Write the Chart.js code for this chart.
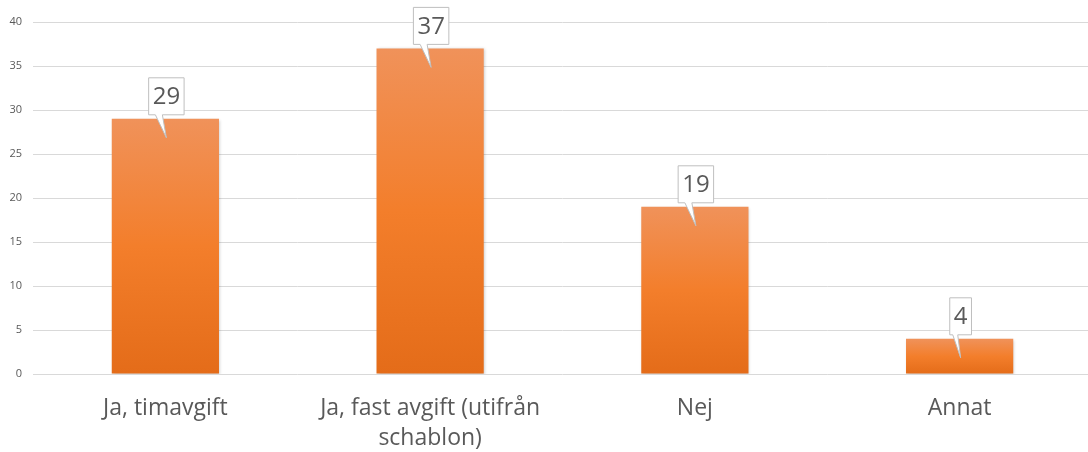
<!DOCTYPE html>
<html>
<head>
<meta charset="utf-8">
<script src="https://cdn.jsdelivr.net/npm/chart.js@4/dist/chart.umd.min.js"></script>
<style>
html,body{margin:0;padding:0;background:#fff;overflow:hidden;}
#wrap{width:1088px;height:452px;overflow:hidden;}
</style>
</head>
<body>
<div id="wrap"><canvas id="c" width="1092" height="452"></canvas></div>
<script>
const categories = [["Ja, timavgift"], ["Ja, fast avgift (utifrån", "schablon)"], ["Nej"], ["Annat"]];
const values = [29, 37, 19, 4];
const yTicks = [0, 5, 10, 15, 20, 25, 30, 35, 40];

const FONT = "'Open Sans', 'Liberation Sans', sans-serif";

const shadowPlugin = {
  id: 'barShadow',
  beforeDatasetDraw(chart) {
    const ctx = chart.ctx;
    ctx.save();
    ctx.shadowColor = 'rgba(0,0,0,0.22)';
    ctx.shadowBlur = 3;
    ctx.shadowOffsetX = 1;
    ctx.shadowOffsetY = 1;
  },
  afterDatasetDraw(chart) {
    chart.ctx.restore();
  }
};

const calloutPlugin = {
  id: 'callouts',
  afterDatasetsDraw(chart) {
    const ctx = chart.ctx;
    const meta = chart.getDatasetMeta(0);
    ctx.save();
    ctx.font = "24px " + FONT;
    meta.data.forEach((bar, i) => {
      const txt = String(values[i]);
      const tw = ctx.measureText(txt).width;
      const w = tw + 8;
      const h = 37;
      const cx = bar.x + 1;
      const bottom = bar.y - 4;
      const left = cx - w / 2, right = cx + w / 2, top = bottom - h;
      const tipX = bar.x + 1, tipY = bar.y + 19;
      const pb1 = cx - 11, pb2 = cx - 4;
      ctx.beginPath();
      ctx.moveTo(left, top);
      ctx.lineTo(right, top);
      ctx.lineTo(right, bottom);
      ctx.lineTo(Math.max(pb2, left + 8), bottom);
      ctx.lineTo(tipX, tipY);
      ctx.lineTo(Math.max(pb1, left + 3), bottom);
      ctx.lineTo(left, bottom);
      ctx.closePath();
      ctx.fillStyle = '#ffffff';
      ctx.fill();
      ctx.strokeStyle = '#bfbfbf';
      ctx.lineWidth = 1;
      ctx.stroke();
      ctx.fillStyle = '#595959';
      ctx.textAlign = 'center';
      ctx.textBaseline = 'middle';
      ctx.fillText(txt, cx, top + h / 2 + 1);
    });
    ctx.restore();
  }
};

function barGradient(context) {
  const chart = context.chart;
  const { chartArea } = chart;
  if (!chartArea) return '#F07F2C';
  const yScale = chart.scales.y;
  const v = values[context.dataIndex];
  const top = yScale.getPixelForValue(v);
  const bottom = yScale.getPixelForValue(0);
  const g = chart.ctx.createLinearGradient(0, top, 0, bottom);
  g.addColorStop(0, '#F0925A');
  g.addColorStop(0.5, '#F37E2B');
  g.addColorStop(1, '#E46C19');
  return g;
}

new Chart(document.getElementById('c'), {
  type: 'bar',
  data: {
    labels: categories,
    datasets: [{
      data: values,
      backgroundColor: barGradient,
      borderWidth: 0,
      categoryPercentage: 1.0,
      barPercentage: 0.405
    }]
  },
  options: {
    responsive: false,
    animation: false,
    events: [],
    layout: { padding: { left: 0, right: 0, top: 22, bottom: 0 } },
    plugins: { legend: { display: false }, tooltip: { enabled: false } },
    scales: {
      x: {
        grid: { display: false },
        border: { display: false },
        afterFit(axis) { axis.height = 78; },
        ticks: { color: '#595959', font: { family: FONT, size: 23, lineHeight: 1.3 }, padding: 12, maxRotation: 0, autoSkip: false }
      },
      y: {
        min: 0, max: 40,
        afterBuildTicks(axis) { axis.ticks = yTicks.map(v => ({ value: v })); },
        afterFit(axis) { axis.width = 33; },
        grid: { color: '#d9d9d9', lineWidth: 1, drawTicks: false },
        border: { display: false },
        ticks: { color: '#595959', font: { family: FONT, size: 11 }, padding: 11 }
      }
    }
  },
  plugins: [shadowPlugin, calloutPlugin]
});
</script>
</body>
</html>
